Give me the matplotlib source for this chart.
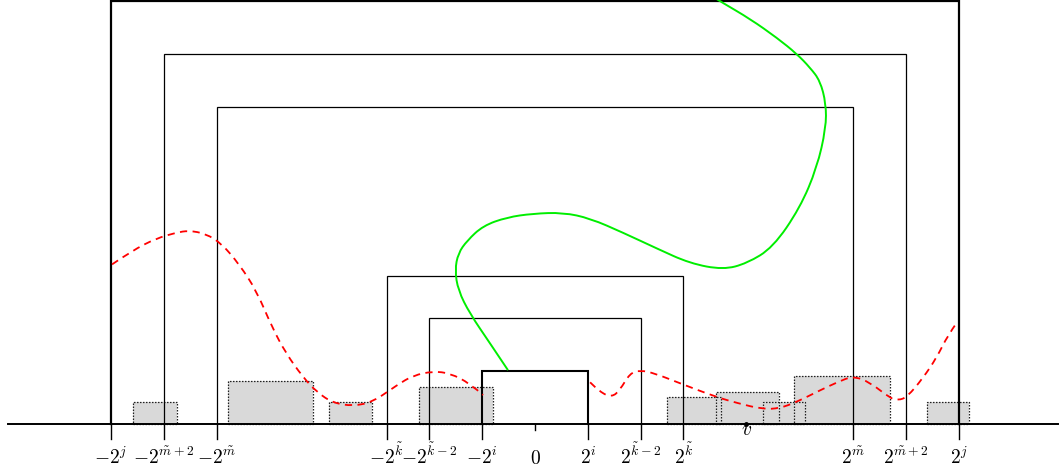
import matplotlib.pyplot as plt
from matplotlib.patches import Rectangle, PathPatch
from matplotlib.path import Path

plt.rcParams['mathtext.fontset'] = 'cm'

# unit = distance between 0 and 2^i on the axis
tick_pos = [-8, -7, -6, -2.8, -2, -1, 0, 1, 2, 2.8, 6, 7, 8]
tick_labels = [r'$-2^j$', r'$-2^{\tilde m+2}$', r'$-2^{\tilde m}$', r'$-2^{\tilde k}$',
               r'$-2^{\tilde k-2}$', r'$-2^i$', r'$0$', r'$2^i$', r'$2^{\tilde k-2}$',
               r'$2^{\tilde k}$', r'$2^{\tilde m}$', r'$2^{\tilde m+2}$', r'$2^j$']

# nested brackets [-r, r] x [0, r]
bracket_r = [8, 7, 6, 2.8, 2, 1]
bracket_lw = [1.6, 0.9, 0.9, 0.9, 0.9, 1.5]

# gray boxes: left, right, height
box_left = [-7.58, -5.79, -3.89, -2.19, 2.49, 3.42, 4.30, 4.89, 7.40]
box_right = [-6.75, -4.19, -3.08, -0.79, 3.51, 4.60, 5.09, 6.70, 8.19]
box_height = [0.42, 0.81, 0.42, 0.70, 0.51, 0.60, 0.42, 0.91, 0.42]

# red dashed curve, two pieces (hidden inside the 2^i box)
red_left_x = [-7.98, -7.60, -7.15, -6.77, -6.53, -6.21, -5.91, -5.58, -5.26, -4.96,
              -4.70, -4.38, -4.11, -3.81, -3.43, -3.06, -2.60, -2.30, -1.92, -1.60,
              -1.23, -0.98]
red_left_y = [3.02, 3.28, 3.51, 3.62, 3.66, 3.60, 3.41, 3.02, 2.53, 1.83,
              1.34, 0.89, 0.60, 0.40, 0.34, 0.42, 0.74, 0.92, 1.00, 0.96,
              0.77, 0.55]
red_right_x = [1.04, 1.23, 1.45, 1.60, 1.79, 1.98, 2.26, 2.79, 3.43, 3.81,
               4.30, 4.62, 4.94, 5.38, 5.70, 6.00, 6.32, 6.70, 6.85, 7.02,
               7.32, 7.58, 7.79, 7.96]
red_right_y = [0.79, 0.60, 0.51, 0.64, 0.96, 1.02, 0.96, 0.75, 0.51, 0.40,
               0.28, 0.30, 0.42, 0.64, 0.79, 0.91, 0.79, 0.49, 0.45, 0.51,
               0.87, 1.26, 1.68, 1.92]

# green curve
green_x = [-0.51, -0.85, -1.23, -1.45, -1.51, -1.45, -1.28, -0.98, -0.53, -0.04,
           0.53, 1.04, 1.66, 2.30, 2.92, 3.55, 4.00, 4.49, 5.00, 5.32,
           5.49, 5.49, 5.38, 5.19, 4.94, 4.57, 4.06, 3.55, 3.34]
green_y = [1.02, 1.53, 2.09, 2.53, 2.91, 3.23, 3.47, 3.75, 3.91, 3.98,
           4.00, 3.89, 3.62, 3.32, 3.04, 2.92, 3.04, 3.34, 4.09, 4.85,
           5.60, 6.06, 6.49, 6.74, 7.00, 7.30, 7.66, 7.96, 8.09]

v_pos = 3.99


def smooth_path(xs, ys):
    # quadratic B-spline through the midpoints of the read points
    pts = list(zip(xs, ys))
    verts = [pts[0]]
    codes = [Path.MOVETO]
    for i in range(1, len(pts) - 1):
        if i < len(pts) - 2:
            end = ((pts[i][0] + pts[i + 1][0]) / 2, (pts[i][1] + pts[i + 1][1]) / 2)
        else:
            end = pts[-1]
        verts += [pts[i], end]
        codes += [Path.CURVE3, Path.CURVE3]
    return Path(verts, codes)


fig = plt.figure(figsize=(10.64, 4.76), dpi=100)
ax = fig.add_axes([0, 0, 1, 1])
ax.set_xlim(-535 / 53, 529 / 53)
ax.set_ylim(-52 / 53, 425 / 53)
ax.axis('off')

for l, r, h in zip(box_left, box_right, box_height):
    ax.add_patch(Rectangle((l, 0), r - l, h, facecolor='#d9d9d9', edgecolor='none', zorder=1))
for l, r, h in zip(box_left, box_right, box_height):
    ax.add_patch(Rectangle((l, 0), r - l, h, facecolor='none', edgecolor='#222222',
                           linewidth=0.9, linestyle=(0, (1.2, 1.2)), zorder=2))

for r, lw in zip(bracket_r, bracket_lw):
    ax.plot([-r, -r, r, r], [0, r, r, 0], color='black', linewidth=lw, zorder=3,
            solid_joinstyle='miter')

for xs, ys in [(red_left_x, red_left_y), (red_right_x, red_right_y)]:
    ax.add_patch(PathPatch(smooth_path(xs, ys), facecolor='none', edgecolor='red',
                           linestyle=(0, (4, 3)), linewidth=1.3, zorder=4))
ax.add_patch(PathPatch(smooth_path(green_x, green_y), facecolor='none', edgecolor='#00ee00',
                       linewidth=1.4, zorder=4))

ax.plot([-9.94, 9.87], [0, 0], color='black', linewidth=1.4, zorder=5)
for p, lab in zip(tick_pos, tick_labels):
    ln = 0.12 if p == 0 else 0.28
    ax.plot([p, p], [0, -ln], color='black', linewidth=1.0, zorder=5)
    ax.text(p, -0.755, lab, fontsize=14, ha='center', va='baseline')

ax.plot([v_pos], [0], 'o', color='black', markersize=2.5, zorder=6)
ax.text(v_pos, -0.21, r'$v$', fontsize=14, ha='center', va='baseline')

fig.savefig('out.png', dpi=100)
